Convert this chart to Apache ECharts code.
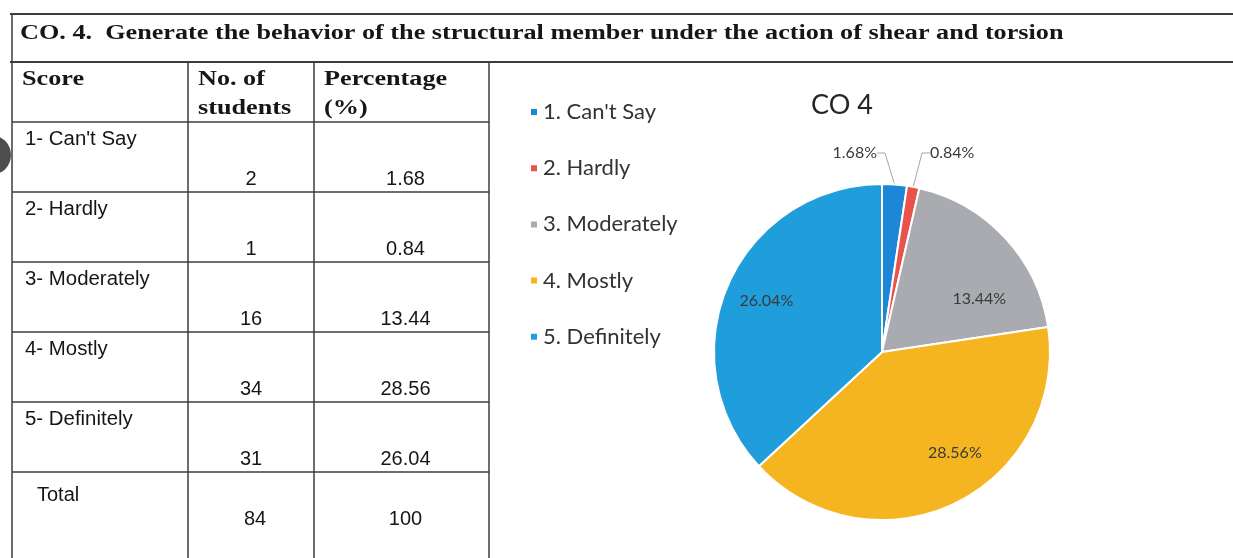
<!DOCTYPE html>
<html>
<head>
<meta charset="utf-8">
<script src="https://cdn.jsdelivr.net/npm/echarts@6/dist/echarts.min.js"></script>
<style>
  html, body { margin: 0; padding: 0; background: #fff; }
  #main { width: 1233px; height: 558px; }
</style>
</head>
<body>
<div id="main"></div>
<script>
const headingText = 'CO. 4.  Generate the behavior of the structural member under the action of shear and torsion';
const tableHeader = [['Score'], ['No. of', 'students'], ['Percentage', '(%)']];
const scoreLabels = ['1- Can\'t Say', '2- Hardly', '3- Moderately', '4- Mostly', '5- Definitely'];
const studentCounts = [2, 1, 16, 34, 31];
const percentText = ['1.68', '0.84', '13.44', '28.56', '26.04'];
const totalRow = ['Total', '84', '100'];

const legendNames = ['1. Can\'t Say', '2. Hardly', '3. Moderately', '4. Mostly', '5. Definitely'];
const pieValues = [1.68, 0.84, 13.44, 28.56, 26.04];
const pieColors = ['#1c86d7', '#e8544b', '#a9abb0', '#f5b520', '#1f9edb'];
const chartTitle = 'CO 4';

// table geometry
const colX = [12, 188, 314, 489];
const rowY = [62, 122, 192, 262, 332, 402, 472];
const lineColor = '#3c3c3c';
const serifScale = 1.31;
// small nudges for the inside pie labels (Excel "best fit" spots)
const labelNudge = [[0, 0], [0, 0], [8, 30], [20, -9], [-4, -2]];

let chart = echarts.init(document.getElementById('main'));

let g = [];
function line(x1, y1, x2, y2, w) {
    g.push({ type: 'line', silent: true, shape: { x1: x1, y1: y1, x2: x2, y2: y2 },
        style: { stroke: lineColor, lineWidth: w || 1.5 } });
}
function text(str, x, y, font, align, sx) {
    g.push({ type: 'text', silent: true, x: x, y: y, scaleX: sx || 1,
        style: { text: str, font: font, fill: '#161616', align: align || 'left', textAlign: align || 'left',
            verticalAlign: 'middle', textVerticalAlign: 'middle' } });
}

// outer frame
line(10, 14, 1233, 14, 2);
line(10, 62, 1233, 62, 2);
line(12, 14, 12, 558);
for (let i = 1; i < colX.length; i++) line(colX[i], 62, colX[i], 558);
for (let j = 1; j < rowY.length; j++) line(colX[0], rowY[j], colX[colX.length - 1], rowY[j]);

const serifBold = 'bold 20px "Liberation Serif", "Times New Roman", serif';
const sans = '20px "Liberation Sans", Arial, sans-serif';
text(headingText, 20, 34, serifBold, 'left', serifScale);

// header row
tableHeader.forEach(function (lines, c) {
    lines.forEach(function (s, k) {
        text(s, colX[c] + 10, 80 + k * 29, serifBold, 'left', serifScale);
    });
});

// body rows
scoreLabels.forEach(function (lab, r) {
    let top = rowY[r + 1];
    text(lab, colX[0] + 13, top + 17, sans, 'left', 1.02);
    text(String(studentCounts[r]), (colX[1] + colX[2]) / 2, top + 57, sans, 'center');
    text(percentText[r], (colX[2] + colX[3]) / 2 + 4, top + 57, sans, 'center');
});
let totTop = rowY[rowY.length - 1];
text(totalRow[0], colX[0] + 25, totTop + 23, sans, 'left');
text(totalRow[1], (colX[1] + colX[2]) / 2 + 4, totTop + 47, sans, 'center');
text(totalRow[2], (colX[2] + colX[3]) / 2 + 4, totTop + 47, sans, 'center');

// scan artifact on the left edge
g.push({ type: 'circle', silent: true, shape: { cx: -9, cy: 155, r: 20 }, style: { fill: '#4d4d4d' } });

// chart title
g.push({ type: 'text', silent: true, x: 842, y: 105,
    style: { text: chartTitle, font: '27px Lato, "Open Sans", sans-serif', fill: '#262626',
        align: 'center', textAlign: 'center', verticalAlign: 'middle', textVerticalAlign: 'middle' } });

const pieCenter = [882, 352];
const pieData = pieValues.map(function (v, i) {
    let d = { name: legendNames[i], value: v, itemStyle: { color: pieColors[i] } };
    if (v < 5) d.label = { position: 'outside' };
    return d;
});

chart.setOption({
    backgroundColor: '#ffffff',
    animation: false,
    graphic: { elements: g },
    legend: {
        orient: 'vertical',
        left: 529,
        top: 101,
        padding: 0,
        icon: 'rect',
        itemWidth: 8,
        itemHeight: 8,
        itemGap: 34.2,
        data: legendNames,
        textStyle: { fontFamily: 'Lato, "Open Sans", sans-serif', fontSize: 22, color: '#333333', lineHeight: 21 }
    },
    series: [{
        type: 'pie',
        center: pieCenter,
        radius: 168,
        startAngle: 90,
        clockwise: true,
        avoidLabelOverlap: false,
        itemStyle: { borderColor: '#ffffff', borderWidth: 2 },
        label: {
            position: 'inside',
            fontFamily: 'Lato, "Open Sans", sans-serif',
            fontSize: 16,
            color: '#3a3a3a',
            formatter: function (p) { return p.value.toFixed(2) + '%'; }
        },
        labelLine: { show: true, length: 12, length2: 8, lineStyle: { color: '#a6a6a6', width: 1 } },
        labelLayout: function (p) {
            if (p.dataIndex === 0) return { x: 877, y: 153, align: 'right', verticalAlign: 'middle' };
            if (p.dataIndex === 1) return { x: 930, y: 153, align: 'left', verticalAlign: 'middle' };
            // push inside labels further out from the centre (~0.7 r)
            let lx = p.labelRect.x + p.labelRect.width / 2;
            let ly = p.labelRect.y + p.labelRect.height / 2;
            let n = labelNudge[p.dataIndex];
            return {
                x: pieCenter[0] + (lx - pieCenter[0]) * 1.4 + n[0],
                y: pieCenter[1] + (ly - pieCenter[1]) * 1.4 + n[1],
                align: 'center', verticalAlign: 'middle'
            };
        },
        data: pieData
    }]
});
</script>
</body>
</html>
